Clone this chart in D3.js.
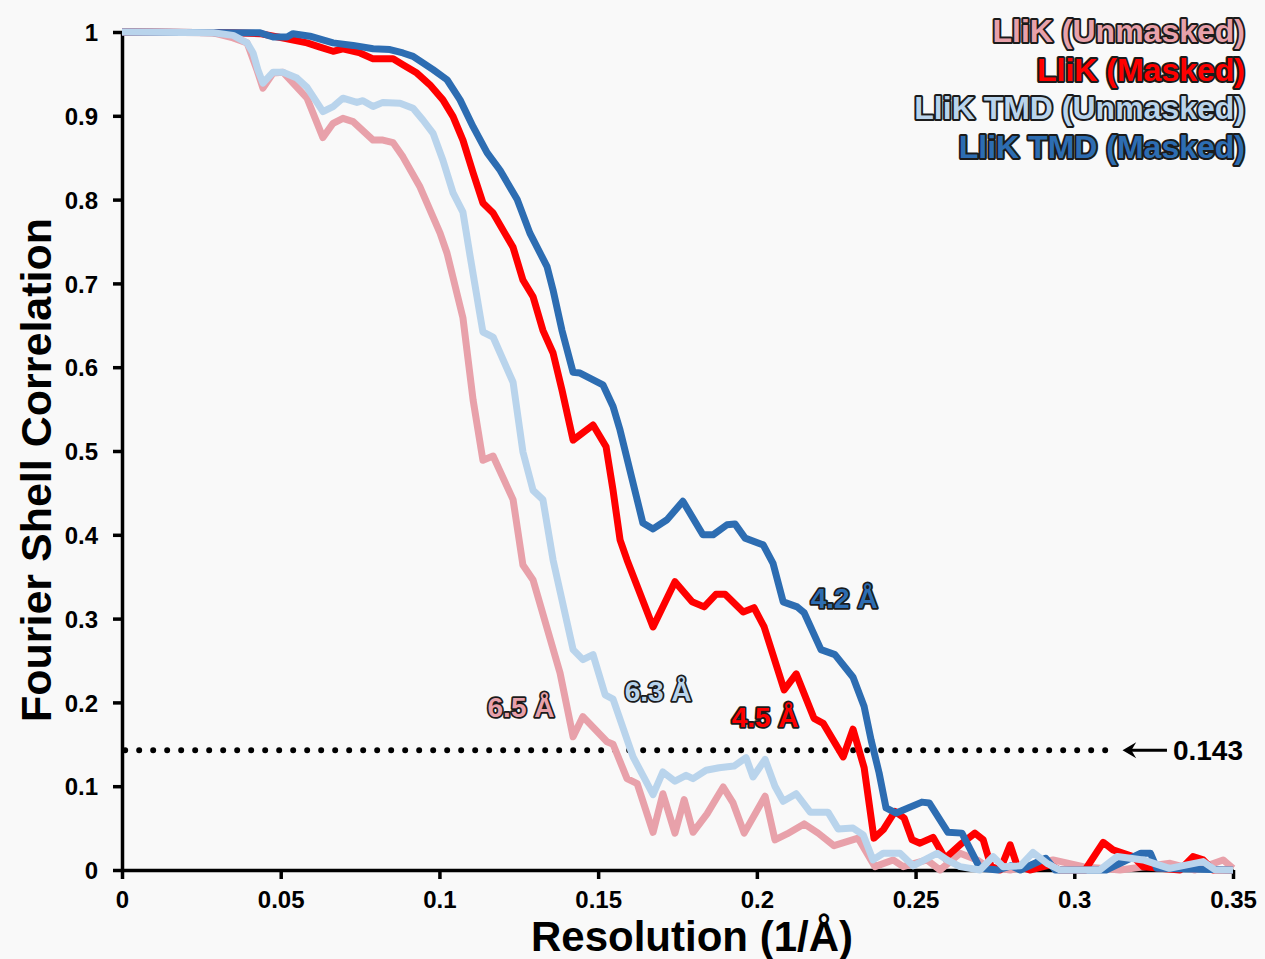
<!DOCTYPE html>
<html>
<head>
<meta charset="utf-8">
<script src="https://cdn.jsdelivr.net/npm/d3@7"></script>
<style>
  body { margin: 0; background: #f9f9f9; }
  text { font-family: "Liberation Sans", Arial, sans-serif; font-weight: bold; }
</style>
</head>
<body>
<div id="chart"></div>
<script>
// resolution (1/Å) and FSC for each map
var llikUnmaskedRes = [0, 0.0287, 0.035, 0.0394, 0.0425, 0.0444, 0.0476, 0.0507, 0.0539, 0.0583, 0.0633, 0.0665, 0.0696, 0.0728, 0.0791, 0.0822, 0.0854, 0.0885, 0.0939, 0.1002, 0.1024, 0.1074, 0.1106, 0.1137, 0.1169, 0.1232, 0.1263, 0.1295, 0.138, 0.1421, 0.1452, 0.1528, 0.1547, 0.1591, 0.1623, 0.1673, 0.1704, 0.1742, 0.1771, 0.1799, 0.1843, 0.1894, 0.1925, 0.196, 0.2026, 0.2057, 0.2095, 0.2149, 0.2193, 0.2243, 0.2319, 0.2372, 0.2429, 0.2461, 0.2536, 0.2577, 0.264, 0.2694, 0.2725, 0.2798, 0.2933, 0.3028, 0.3144, 0.3302, 0.338, 0.3469, 0.35];
var llikUnmaskedFsc = [1, 0.999, 0.993, 0.987, 0.955, 0.933, 0.951, 0.952, 0.939, 0.921, 0.874, 0.891, 0.897, 0.893, 0.871, 0.871, 0.868, 0.851, 0.815, 0.76, 0.736, 0.659, 0.561, 0.489, 0.494, 0.442, 0.364, 0.346, 0.235, 0.159, 0.183, 0.153, 0.15, 0.109, 0.103, 0.045, 0.091, 0.044, 0.084, 0.045, 0.067, 0.099, 0.08, 0.044, 0.088, 0.036, 0.043, 0.055, 0.044, 0.029, 0.038, 0.004, 0.012, 0.004, 0.012, 0, 0.02, 0.012, 0.004, 0, 0.012, 0.004, 0, 0.008, 0, 0.012, 0.002];

var llikMaskedRes = [0, 0.035, 0.0435, 0.052, 0.0583, 0.0624, 0.0665, 0.0696, 0.075, 0.0791, 0.0854, 0.0885, 0.0929, 0.097, 0.1011, 0.1043, 0.1074, 0.1106, 0.1137, 0.1169, 0.1232, 0.1263, 0.1295, 0.1326, 0.1358, 0.1386, 0.1421, 0.1484, 0.1525, 0.1547, 0.1569, 0.1591, 0.1673, 0.1742, 0.1796, 0.1834, 0.1871, 0.19, 0.1957, 0.1991, 0.2023, 0.2086, 0.2124, 0.218, 0.2209, 0.2272, 0.2303, 0.2338, 0.2369, 0.2398, 0.2435, 0.2464, 0.2489, 0.2514, 0.2555, 0.2593, 0.2646, 0.2687, 0.2713, 0.2738, 0.2766, 0.2798, 0.282, 0.286, 0.2924, 0.2955, 0.3034, 0.3091, 0.3122, 0.3185, 0.3217, 0.3333, 0.3374, 0.3406, 0.3437, 0.35];
var llikMaskedFsc = [1, 0.999, 0.998, 0.992, 0.987, 0.982, 0.977, 0.98, 0.975, 0.968, 0.968, 0.961, 0.951, 0.937, 0.919, 0.899, 0.871, 0.832, 0.796, 0.784, 0.743, 0.704, 0.684, 0.644, 0.617, 0.573, 0.513, 0.531, 0.505, 0.453, 0.394, 0.37, 0.29, 0.344, 0.32, 0.314, 0.329, 0.329, 0.308, 0.313, 0.29, 0.215, 0.234, 0.181, 0.175, 0.135, 0.168, 0.122, 0.038, 0.048, 0.07, 0.062, 0.036, 0.032, 0.039, 0.014, 0.032, 0.044, 0.036, 0.004, 0, 0.03, 0.005, 0, 0.006, 0, 0, 0.033, 0.024, 0.016, 0.004, 0, 0.016, 0.012, 0, 0];

var tmdUnmaskedRes = [0, 0.0287, 0.035, 0.0394, 0.0413, 0.0428, 0.0444, 0.0476, 0.0507, 0.0551, 0.0583, 0.0633, 0.0665, 0.0696, 0.074, 0.0759, 0.0791, 0.0822, 0.0876, 0.0917, 0.0948, 0.098, 0.1011, 0.1043, 0.1074, 0.1096, 0.1128, 0.1137, 0.1169, 0.1232, 0.1263, 0.1295, 0.1326, 0.1358, 0.1421, 0.1452, 0.1484, 0.1522, 0.1547, 0.161, 0.1673, 0.1704, 0.1742, 0.1777, 0.1799, 0.184, 0.1881, 0.1928, 0.1966, 0.1988, 0.2026, 0.2057, 0.2083, 0.2124, 0.2168, 0.2224, 0.2256, 0.2303, 0.2335, 0.2366, 0.2398, 0.2451, 0.2492, 0.2568, 0.2599, 0.264, 0.2703, 0.2744, 0.2776, 0.283, 0.287, 0.2914, 0.2955, 0.308, 0.3135, 0.3217, 0.33, 0.3406, 0.3444, 0.35];
var tmdUnmaskedFsc = [1, 0.999, 0.996, 0.987, 0.975, 0.955, 0.939, 0.952, 0.952, 0.945, 0.934, 0.905, 0.911, 0.921, 0.916, 0.918, 0.911, 0.916, 0.915, 0.909, 0.895, 0.879, 0.847, 0.808, 0.785, 0.734, 0.662, 0.642, 0.636, 0.582, 0.499, 0.453, 0.442, 0.37, 0.263, 0.251, 0.257, 0.209, 0.204, 0.135, 0.09, 0.117, 0.106, 0.113, 0.109, 0.119, 0.122, 0.124, 0.134, 0.111, 0.132, 0.1, 0.082, 0.091, 0.069, 0.069, 0.049, 0.05, 0.042, 0.012, 0.02, 0.02, 0.005, 0.02, 0.012, 0.004, 0, 0.016, 0.004, 0.005, 0.021, 0.008, 0, 0, 0.016, 0.012, 0.002, 0.01, 0, 0];

var tmdMaskedRes = [0, 0.035, 0.0435, 0.0476, 0.052, 0.0539, 0.0592, 0.0665, 0.0728, 0.0791, 0.0844, 0.0885, 0.0917, 0.098, 0.1024, 0.1065, 0.1106, 0.115, 0.1191, 0.1245, 0.1285, 0.1339, 0.1358, 0.1386, 0.1421, 0.1443, 0.1515, 0.1547, 0.1569, 0.1641, 0.1673, 0.1717, 0.1767, 0.183, 0.1862, 0.1906, 0.1931, 0.1963, 0.202, 0.2051, 0.2083, 0.2127, 0.2149, 0.2202, 0.2246, 0.2303, 0.2338, 0.236, 0.2385, 0.2407, 0.2439, 0.252, 0.2543, 0.2602, 0.2646, 0.2703, 0.276, 0.28, 0.283, 0.291, 0.294, 0.31, 0.321, 0.324, 0.326, 0.35];
var tmdMaskedFsc = [1, 0.999, 0.999, 0.994, 0.994, 0.998, 0.995, 0.987, 0.984, 0.98, 0.979, 0.975, 0.971, 0.955, 0.943, 0.919, 0.887, 0.856, 0.835, 0.8, 0.76, 0.72, 0.692, 0.644, 0.594, 0.593, 0.579, 0.553, 0.525, 0.414, 0.407, 0.418, 0.44, 0.4, 0.4, 0.412, 0.413, 0.396, 0.388, 0.366, 0.32, 0.314, 0.307, 0.263, 0.257, 0.23, 0.195, 0.155, 0.116, 0.074, 0.068, 0.081, 0.08, 0.045, 0.044, 0.002, 0, 0.005, 0, 0.014, 0, 0, 0.02, 0.02, 0.002, 0];

var seriesNames = ["LliK (Unmasked)", "LliK (Masked)", "LliK TMD (Unmasked)", "LliK TMD (Masked)"];
var seriesColors = ["#e8a1aa", "#ff0000", "#b9d4ec", "#2d6db2"];

// resolution labels where each curve crosses 0.143
var cutoffLabels = ["6.5 Å", "4.5 Å", "6.3 Å", "4.2 Å"];
var cutoffX = [0.1257, 0.2026, 0.1689, 0.2275];
var cutoffY = [0.183, 0.171, 0.202, 0.313];

var threshold = 0.143;
var xTicks = [0, 0.05, 0.1, 0.15, 0.2, 0.25, 0.3, 0.35];
var yTicks = [0, 0.1, 0.2, 0.3, 0.4, 0.5, 0.6, 0.7, 0.8, 0.9, 1];

var width = 1265, height = 959;

var svg = d3.select("#chart").append("svg")
    .attr("width", width)
    .attr("height", height);

svg.append("rect")
    .attr("width", width)
    .attr("height", height)
    .attr("fill", "#f9f9f9");

var x = d3.scaleLinear().domain([0, 0.35]).range([122, 1233]);
var y = d3.scaleLinear().domain([0, 1]).range([870, 32]);

var fmt = d => String(+d.toFixed(2));

/* AXES */
var xAxis = svg.append("g")
    .attr("transform", "translate(0," + y(0) + ")")
    .call(d3.axisBottom(x).tickValues(xTicks).tickFormat(fmt).tickSize(9).tickSizeOuter(0).tickPadding(12));

var yAxis = svg.append("g")
    .attr("transform", "translate(" + x(0) + ",0)")
    .call(d3.axisLeft(y).tickValues(yTicks).tickFormat(fmt).tickSize(9).tickSizeOuter(0).tickPadding(15));

[xAxis, yAxis].forEach(g => {
    g.select(".domain").attr("stroke", "#000").attr("stroke-width", 3.5);
    g.selectAll(".tick line").attr("stroke", "#000").attr("stroke-width", 3.5);
    g.selectAll(".tick text")
        .attr("fill", "#000")
        .style("font-size", "24px")
        .style("font-family", "'Liberation Sans', Arial, sans-serif")
        .style("font-weight", "bold");
});
yAxis.selectAll(".tick text").attr("dy", "0.36em");

svg.append("text")
    .attr("x", 692)
    .attr("y", 951)
    .attr("text-anchor", "middle")
    .style("font-size", "42px")
    .text("Resolution (1/Å)");

svg.append("text")
    .attr("transform", "translate(51,470) rotate(-90)")
    .attr("text-anchor", "middle")
    .style("font-size", "43px")
    .text("Fourier Shell Correlation");

/* THRESHOLD LINE */
svg.append("line")
    .attr("x1", x(0.001))
    .attr("x2", x(0.3115))
    .attr("y1", y(threshold))
    .attr("y2", y(threshold))
    .attr("stroke", "#000")
    .attr("stroke-width", 6)
    .attr("stroke-linecap", "round")
    .attr("stroke-dasharray", "0 14");

svg.append("line")
    .attr("x1", x(0.3165))
    .attr("x2", x(0.3292))
    .attr("y1", y(threshold))
    .attr("y2", y(threshold))
    .attr("stroke", "#000")
    .attr("stroke-width", 3);

svg.append("path")
    .attr("d", d3.line()([[x(0.3152), y(threshold)], [x(0.3195), y(threshold) - 8], [x(0.3180), y(threshold)], [x(0.3195), y(threshold) + 8]]) + "Z")
    .attr("fill", "#000");

svg.append("text")
    .attr("x", 1243)
    .attr("y", y(threshold) + 10)
    .attr("text-anchor", "end")
    .style("font-size", "28px")
    .text(String(threshold));

/* CURVES */
var allRes = [llikUnmaskedRes, llikMaskedRes, tmdUnmaskedRes, tmdMaskedRes];
var allFsc = [llikUnmaskedFsc, llikMaskedFsc, tmdUnmaskedFsc, tmdMaskedFsc];

var line = d3.line()
    .x(d => x(d[0]))
    .y(d => y(d[1]));

// draw order as in the figure: light blue ends up on top
[0, 1, 3, 2].forEach(i => {
    let pts = allRes[i].map((r, j) => [r, allFsc[i][j]]);
    svg.append("path")
        .datum(pts)
        .attr("d", line)
        .attr("fill", "none")
        .attr("stroke", seriesColors[i])
        .attr("stroke-width", 7)
        .attr("stroke-linejoin", "round");
});

/* OUTLINED LABELS */
function outlined(sel, w) {
    return sel
        .attr("stroke", "#1b1b1b")
        .attr("stroke-width", w)
        .attr("stroke-linejoin", "round")
        .style("paint-order", "stroke fill");
}

cutoffLabels.forEach((t, i) => {
    outlined(svg.append("text")
        .attr("x", x(cutoffX[i]))
        .attr("y", y(cutoffY[i]))
        .attr("text-anchor", "middle")
        .attr("fill", seriesColors[i])
        .style("font-size", "28px")
        .text(t), 3.5);
});

seriesNames.forEach((t, i) => {
    outlined(svg.append("text")
        .attr("x", 1245)
        .attr("y", 42 + i * 38.5)
        .attr("text-anchor", "end")
        .attr("fill", seriesColors[i])
        .style("font-size", "32px")
        .text(t), 4);
});
</script>
</body>
</html>
